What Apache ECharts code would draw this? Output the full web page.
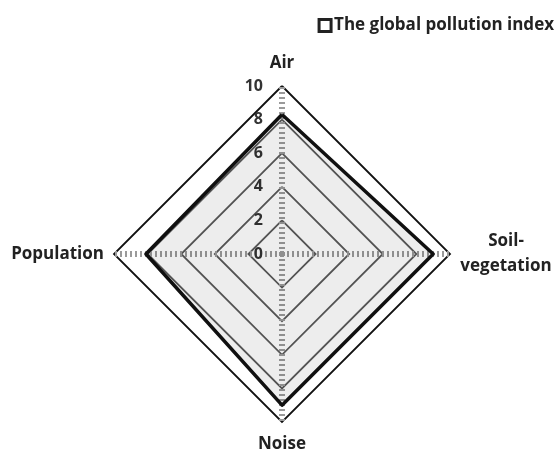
<!DOCTYPE html>
<html>
<head>
<meta charset="utf-8">
<script src="https://cdn.jsdelivr.net/npm/echarts@6/dist/echarts.min.js"></script>
<style>
  html, body { margin: 0; padding: 0; background: #fff; }
  #chart { width: 559px; height: 452px; }
</style>
</head>
<body>
<div id="chart"></div>
<script>
  // indicators listed counterclockwise from the top
  var indicatorNames = ['Air', 'Population', 'Noise', 'Soil-\nvegetation'];
  var indicatorMax = [10, 10, 10, 10];
  var pollutionIndex = [8.3, 8.1, 9.0, 9.0];
  var seriesName = 'The global pollution index';

  var myChart = echarts.init(document.getElementById('chart'));

  var indicators = indicatorNames.map(function (n, i) {
    var ind = { name: n, max: indicatorMax[i], min: 0 };
    // tick labels only on the Air axis
    if (i > 0) ind.axisLabel = { show: false };
    return ind;
  });

  var option = {
    animation: false,
    textStyle: { fontFamily: 'Open Sans' },

    legend: {
      data: [seriesName],
      right: 0,
      top: 12,
      icon: 'rect',
      itemWidth: 12,
      itemHeight: 12,
      itemGap: 4,
      itemStyle: { color: '#fff', borderColor: '#222', borderWidth: 3 },
      textStyle: { fontFamily: 'Open Sans', fontWeight: 'bold', fontSize: 17, color: '#222', padding: [0, 0, 0, -2] }
    },

    radar: {
      center: [282, 254],
      radius: 168,
      shape: 'polygon',
      splitNumber: 5,
      nameGap: 10,
      axisName: {
        color: '#222',
        fontFamily: 'Open Sans',
        fontWeight: 'bold',
        fontSize: 17,
        lineHeight: 25,
        formatter: function (name) {
          if (name.indexOf('\n') < 0) return name;
          // centre the two-line name
          return name.split('\n').map(function (s) { return '{c|' + s + '}'; }).join('\n');
        },
        rich: {
          c: { width: 92, align: 'center', fontFamily: 'Open Sans', fontWeight: 'bold', fontSize: 17, color: '#222', lineHeight: 25 }
        }
      },
      axisLine: {
        show: true,
        lineStyle: { color: '#9a9a9a', width: 6, type: [2, 3], cap: 'butt' }
      },
      splitLine: {
        lineStyle: { color: ['#5a5a5a', '#5a5a5a', '#5a5a5a', '#5a5a5a', '#5a5a5a', '#111'], width: 1.8 }
      },
      splitArea: { show: false },
      axisTick: { show: false },
      axisLabel: {
        show: true,
        color: '#333',
        fontFamily: 'Open Sans',
        fontWeight: 'bold',
        fontSize: 16,
        margin: 19
      },
      indicator: indicators
    },

    series: [{
      name: seriesName,
      type: 'radar',
      symbol: 'none',
      lineStyle: { color: '#111', width: 3.5 },
      itemStyle: { color: '#fff', borderColor: '#222' },
      areaStyle: { color: 'rgba(0,0,0,0.1)' },
      data: [{ value: pollutionIndex, name: seriesName }]
    }]
  };

  myChart.setOption(option);
</script>
</body>
</html>
